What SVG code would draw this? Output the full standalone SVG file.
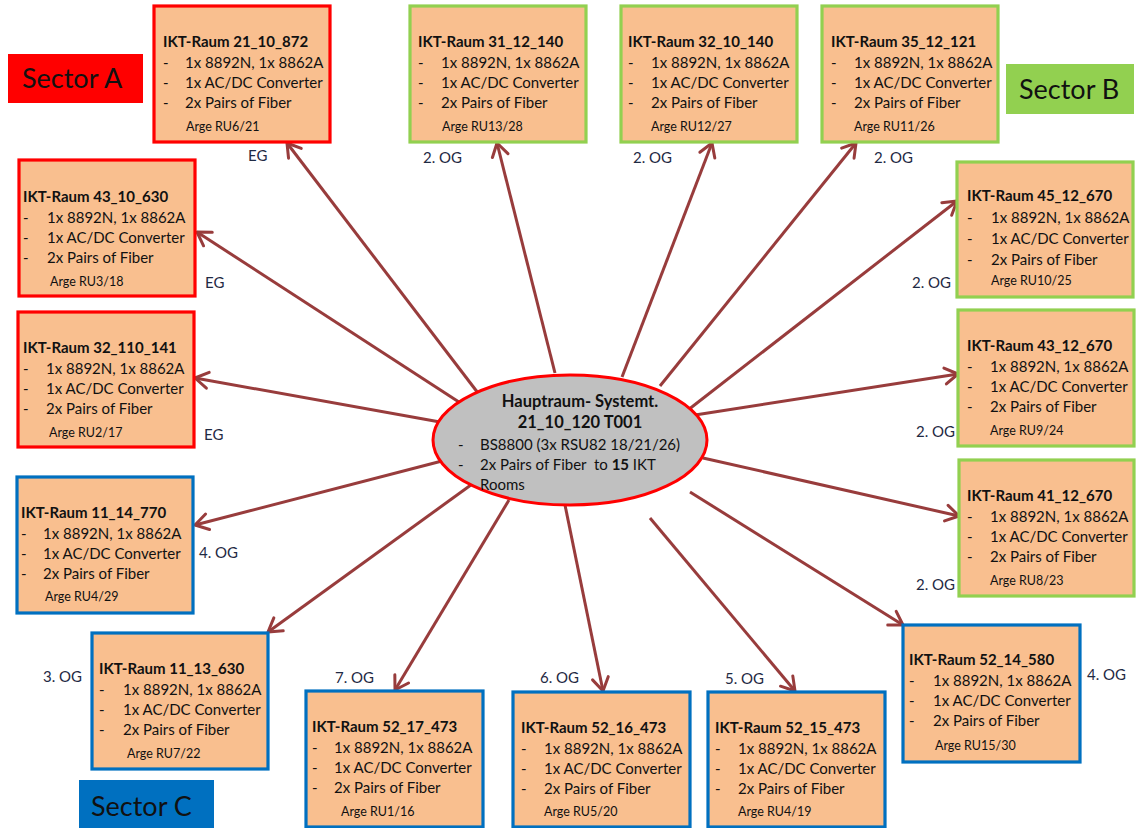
<svg xmlns="http://www.w3.org/2000/svg" width="1137" height="828" viewBox="0 0 1137 828">
<defs>
<marker id="arr" markerUnits="userSpaceOnUse" markerWidth="24" markerHeight="24" viewBox="-16 -12 20 24" refX="0" refY="0" orient="auto">
<path d="M-13,-8 L0,0 L-13,8" fill="none" stroke="#983C3C" stroke-width="3" stroke-linecap="round" stroke-linejoin="round"/>
</marker>
</defs>
<style>
text{font-family:Lato,"Liberation Sans",sans-serif;fill:#111}
.box{fill:#F9BF8F;stroke-width:3.2}
.red{stroke:#FF0000}
.green{stroke:#92D050}
.blue{stroke:#0070C0}
.t{font-weight:bold;font-size:15px}
.i{font-size:15px}
.a{font-size:12.5px}
.fl{font-size:15px;fill:#1F2A44}
.sec{font-size:27px}
.conn line{stroke:#983C3C;stroke-width:3;marker-end:url(#arr)}
</style>
<rect width="1137" height="828" fill="#fff"/>

<g id="connectors" class="conn">
<line x1="478" y1="393" x2="287" y2="143"/>
<line x1="462" y1="404" x2="197" y2="232"/>
<line x1="440" y1="422" x2="195" y2="378"/>
<line x1="442" y1="461" x2="195" y2="525"/>
<line x1="475" y1="482" x2="268" y2="632"/>
<line x1="509" y1="500" x2="395" y2="690"/>
<line x1="565" y1="505" x2="603" y2="691"/>
<line x1="650" y1="518" x2="795" y2="691"/>
<line x1="690" y1="492" x2="903" y2="625"/>
<line x1="703" y1="458" x2="959" y2="516"/>
<line x1="695" y1="415" x2="958" y2="374"/>
<line x1="688" y1="410" x2="957" y2="201"/>
<line x1="660" y1="386" x2="856" y2="143"/>
<line x1="622" y1="377" x2="712" y2="143"/>
<line x1="555" y1="373" x2="497" y2="143"/>
</g>

<g id="hauptraum">
<ellipse cx="570" cy="440" rx="137" ry="65" fill="#C0C0C0" stroke="#FF0000" stroke-width="3"/>
<text x="580" y="407" text-anchor="middle" font-weight="bold" font-size="16.5">Hauptraum- Systemt.</text>
<text x="580" y="428" text-anchor="middle" font-weight="bold" font-size="16.5">21_10_120 T001</text>
<text x="458" y="450" class="i">-</text><text x="480" y="450" class="i">BS8800 (3x RSU82 18/21/26)</text>
<text x="458" y="470" class="i">-</text><text x="480" y="470" class="i" xml:space="preserve">2x Pairs of Fiber  to <tspan font-weight="bold">15</tspan> IKT</text>
<text x="480" y="490" class="i">Rooms</text>
</g>

<g id="b1" transform="translate(154,6)">
<rect class="box red" width="176" height="136"/>
<text class="t" x="9" y="41">IKT-Raum 21_10_872</text>
<text class="i" x="9" y="62">-</text><text class="i" x="31" y="62">1x 8892N, 1x 8862A</text>
<text class="i" x="9" y="82">-</text><text class="i" x="31" y="82">1x AC/DC Converter</text>
<text class="i" x="9" y="102">-</text><text class="i" x="31" y="102">2x Pairs of Fiber</text>
<text class="a" x="32" y="125">Arge RU6/21</text>
</g>
<g id="b2" transform="translate(410,6)">
<rect class="box green" width="176" height="136"/>
<text class="t" x="8" y="41">IKT-Raum 31_12_140</text>
<text class="i" x="8" y="62">-</text><text class="i" x="31" y="62">1x 8892N, 1x 8862A</text>
<text class="i" x="8" y="82">-</text><text class="i" x="31" y="82">1x AC/DC Converter</text>
<text class="i" x="8" y="102">-</text><text class="i" x="31" y="102">2x Pairs of Fiber</text>
<text class="a" x="32" y="125">Arge RU13/28</text>
</g>
<g id="b3" transform="translate(621,6)">
<rect class="box green" width="176" height="136"/>
<text class="t" x="7" y="41">IKT-Raum 32_10_140</text>
<text class="i" x="7" y="62">-</text><text class="i" x="30" y="62">1x 8892N, 1x 8862A</text>
<text class="i" x="7" y="82">-</text><text class="i" x="30" y="82">1x AC/DC Converter</text>
<text class="i" x="7" y="102">-</text><text class="i" x="30" y="102">2x Pairs of Fiber</text>
<text class="a" x="30" y="125">Arge RU12/27</text>
</g>
<g id="b4" transform="translate(822,6)">
<rect class="box green" width="176" height="136"/>
<text class="t" x="9" y="41">IKT-Raum 35_12_121</text>
<text class="i" x="9" y="62">-</text><text class="i" x="32" y="62">1x 8892N, 1x 8862A</text>
<text class="i" x="9" y="82">-</text><text class="i" x="32" y="82">1x AC/DC Converter</text>
<text class="i" x="9" y="102">-</text><text class="i" x="32" y="102">2x Pairs of Fiber</text>
<text class="a" x="32" y="125">Arge RU11/26</text>
</g>
<g id="b5" transform="translate(19,160)">
<rect class="box red" width="176" height="136"/>
<text class="t" x="4" y="42">IKT-Raum 43_10_630</text>
<text class="i" x="4" y="63">-</text><text class="i" x="28" y="63">1x 8892N, 1x 8862A</text>
<text class="i" x="4" y="83">-</text><text class="i" x="28" y="83">1x AC/DC Converter</text>
<text class="i" x="4" y="103">-</text><text class="i" x="28" y="103">2x Pairs of Fiber</text>
<text class="a" x="31" y="126">Arge RU3/18</text>
</g>
<g id="b6" transform="translate(957,162)">
<rect class="box green" width="176" height="135"/>
<text class="t" x="10" y="39">IKT-Raum 45_12_670</text>
<text class="i" x="10" y="61">-</text><text class="i" x="34" y="61">1x 8892N, 1x 8862A</text>
<text class="i" x="10" y="82">-</text><text class="i" x="34" y="82">1x AC/DC Converter</text>
<text class="i" x="10" y="103">-</text><text class="i" x="34" y="103">2x Pairs of Fiber</text>
<text class="a" x="34" y="123">Arge RU10/25</text>
</g>
<g id="b7" transform="translate(18,312)">
<rect class="box red" width="176" height="135"/>
<text class="t" x="5" y="41">IKT-Raum 32_110_141</text>
<text class="i" x="5" y="62">-</text><text class="i" x="28" y="62">1x 8892N, 1x 8862A</text>
<text class="i" x="5" y="82">-</text><text class="i" x="28" y="82">1x AC/DC Converter</text>
<text class="i" x="5" y="102">-</text><text class="i" x="28" y="102">2x Pairs of Fiber</text>
<text class="a" x="31" y="125">Arge RU2/17</text>
</g>
<g id="b8" transform="translate(958,310)">
<rect class="box green" width="176" height="136"/>
<text class="t" x="9" y="41">IKT-Raum 43_12_670</text>
<text class="i" x="9" y="62">-</text><text class="i" x="32" y="62">1x 8892N, 1x 8862A</text>
<text class="i" x="9" y="82">-</text><text class="i" x="32" y="82">1x AC/DC Converter</text>
<text class="i" x="9" y="102">-</text><text class="i" x="32" y="102">2x Pairs of Fiber</text>
<text class="a" x="32" y="125">Arge RU9/24</text>
</g>
<g id="b9" transform="translate(959,460)">
<rect class="box green" width="175" height="136"/>
<text class="t" x="8" y="41">IKT-Raum 41_12_670</text>
<text class="i" x="8" y="62">-</text><text class="i" x="31" y="62">1x 8892N, 1x 8862A</text>
<text class="i" x="8" y="82">-</text><text class="i" x="31" y="82">1x AC/DC Converter</text>
<text class="i" x="8" y="102">-</text><text class="i" x="31" y="102">2x Pairs of Fiber</text>
<text class="a" x="31" y="125">Arge RU8/23</text>
</g>
<g id="b10" transform="translate(17,477)">
<rect class="box blue" width="176" height="136"/>
<text class="t" x="4" y="41">IKT-Raum 11_14_770</text>
<text class="i" x="4" y="62">-</text><text class="i" x="26" y="62">1x 8892N, 1x 8862A</text>
<text class="i" x="4" y="82">-</text><text class="i" x="26" y="82">1x AC/DC Converter</text>
<text class="i" x="4" y="102">-</text><text class="i" x="26" y="102">2x Pairs of Fiber</text>
<text class="a" x="28" y="124">Arge RU4/29</text>
</g>
<g id="b11" transform="translate(92,633)">
<rect class="box blue" width="176" height="136"/>
<text class="t" x="7" y="41">IKT-Raum 11_13_630</text>
<text class="i" x="7" y="62">-</text><text class="i" x="31" y="62">1x 8892N, 1x 8862A</text>
<text class="i" x="7" y="82">-</text><text class="i" x="31" y="82">1x AC/DC Converter</text>
<text class="i" x="7" y="102">-</text><text class="i" x="31" y="102">2x Pairs of Fiber</text>
<text class="a" x="35" y="125">Arge RU7/22</text>
</g>
<g id="b12" transform="translate(306,691)">
<rect class="box blue" width="177" height="136"/>
<text class="t" x="6" y="41">IKT-Raum 52_17_473</text>
<text class="i" x="6" y="62">-</text><text class="i" x="28" y="62">1x 8892N, 1x 8862A</text>
<text class="i" x="6" y="82">-</text><text class="i" x="28" y="82">1x AC/DC Converter</text>
<text class="i" x="6" y="102">-</text><text class="i" x="28" y="102">2x Pairs of Fiber</text>
<text class="a" x="35" y="125">Arge RU1/16</text>
</g>
<g id="b13" transform="translate(513,692)">
<rect class="box blue" width="177" height="135"/>
<text class="t" x="8" y="41">IKT-Raum 52_16_473</text>
<text class="i" x="8" y="62">-</text><text class="i" x="31" y="62">1x 8892N, 1x 8862A</text>
<text class="i" x="8" y="82">-</text><text class="i" x="31" y="82">1x AC/DC Converter</text>
<text class="i" x="8" y="102">-</text><text class="i" x="31" y="102">2x Pairs of Fiber</text>
<text class="a" x="31" y="124">Arge RU5/20</text>
</g>
<g id="b14" transform="translate(708,692)">
<rect class="box blue" width="177" height="135"/>
<text class="t" x="7" y="41">IKT-Raum 52_15_473</text>
<text class="i" x="7" y="62">-</text><text class="i" x="30" y="62">1x 8892N, 1x 8862A</text>
<text class="i" x="7" y="82">-</text><text class="i" x="30" y="82">1x AC/DC Converter</text>
<text class="i" x="7" y="102">-</text><text class="i" x="30" y="102">2x Pairs of Fiber</text>
<text class="a" x="30" y="124">Arge RU4/19</text>
</g>
<g id="b15" transform="translate(903,625)">
<rect class="box blue" width="177" height="137"/>
<text class="t" x="6" y="40">IKT-Raum 52_14_580</text>
<text class="i" x="6" y="61">-</text><text class="i" x="30" y="61">1x 8892N, 1x 8862A</text>
<text class="i" x="6" y="81">-</text><text class="i" x="30" y="81">1x AC/DC Converter</text>
<text class="i" x="6" y="101">-</text><text class="i" x="30" y="101">2x Pairs of Fiber</text>
<text class="a" x="32" y="125">Arge RU15/30</text>
</g>

<g id="floors">
<text class="fl" x="248" y="161">EG</text>
<text class="fl" x="423" y="163">2. OG</text>
<text class="fl" x="633" y="163">2. OG</text>
<text class="fl" x="874" y="163">2. OG</text>
<text class="fl" x="205" y="288">EG</text>
<text class="fl" x="204" y="440">EG</text>
<text class="fl" x="912" y="288">2. OG</text>
<text class="fl" x="916" y="437">2. OG</text>
<text class="fl" x="916" y="590">2. OG</text>
<text class="fl" x="199" y="558">4. OG</text>
<text class="fl" x="43" y="682">3. OG</text>
<text class="fl" x="335" y="683">7. OG</text>
<text class="fl" x="540" y="683">6. OG</text>
<text class="fl" x="725" y="684">5. OG</text>
<text class="fl" x="1087" y="680">4. OG</text>
</g>

<g id="sectorA">
<rect x="8" y="54" width="135" height="49" fill="#FF0000"/>
<text class="sec" x="22" y="88">Sector A</text>
</g>
<g id="sectorB">
<rect x="1006" y="64" width="128" height="50" fill="#92D050"/>
<text class="sec" x="1019" y="99">Sector B</text>
</g>
<g id="sectorC">
<rect x="79" y="780" width="135" height="48" fill="#0070C0"/>
<text class="sec" x="91" y="816">Sector C</text>
</g>
</svg>
